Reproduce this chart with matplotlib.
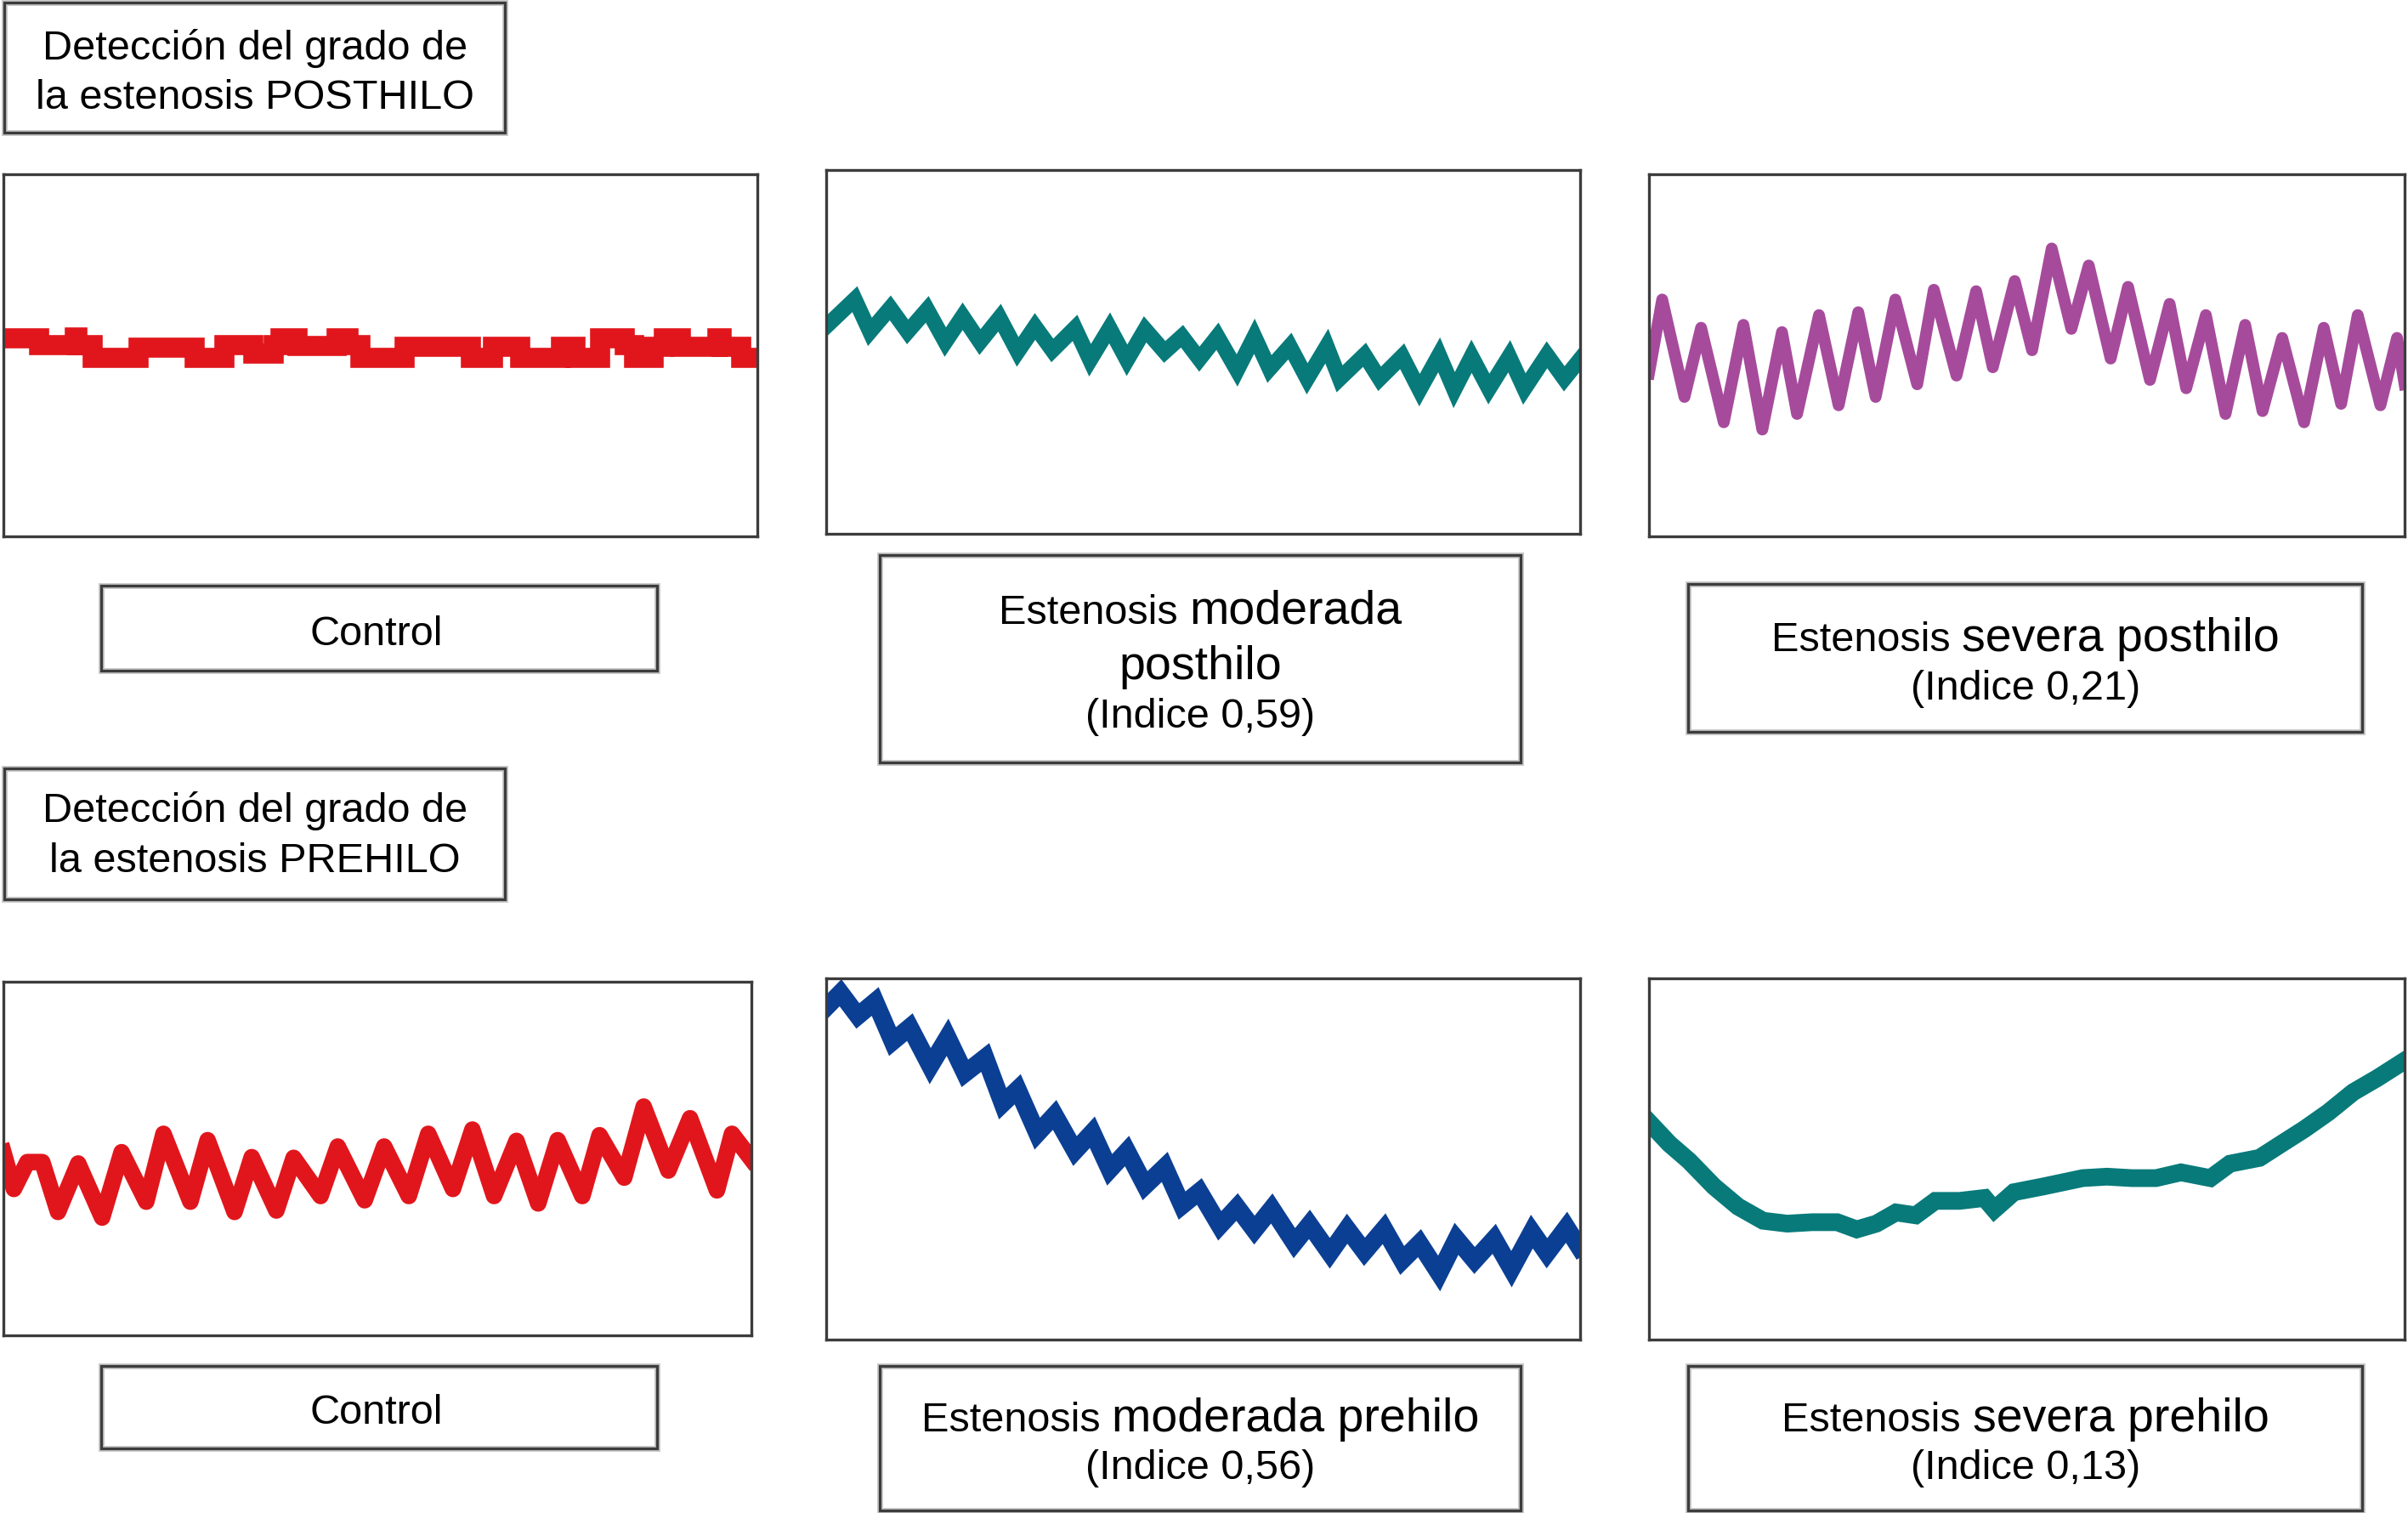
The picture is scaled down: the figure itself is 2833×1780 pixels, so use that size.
import matplotlib
matplotlib.use('Agg')
import matplotlib.pyplot as plt
from matplotlib.patches import Rectangle

# output size in pixels
W, H = 2833, 1781
FONT = ['Liberation Sans', 'DejaVu Sans']

# colours of the traces
RED = '#e1161c'
TEAL = '#087a7a'
MAGENTA = '#a64b9c'
BLUE = '#0b3f94'
FRAME = '#3c3c3c'

# --- traces (x: 0-100 across the panel, y: 0-100 bottom to top) ---
# control posthilo (step trace)
ctrl_post_x = [0, 4.7, 9.5, 9.8, 11.8, 17.9, 25.4, 29.3, 33.2, 35.8, 36.7, 39.0, 44.2, 45.8, 47.4,
               53.2, 62.0, 64.9, 68.5, 74.0, 75.9, 79.1, 82.4, 83.7, 86.3, 87.6, 89.8, 94.7, 95.3,
               97.9, 100]
ctrl_post_y = [54.6, 52.7, 55.0, 52.7, 49.3, 52.0, 49.3, 52.7, 50.5, 52.7, 54.8, 52.5, 54.6, 52.7,
               49.3, 52.4, 49.3, 52.4, 49.3, 52.4, 49.3, 54.6, 52.7, 49.3, 52.4, 54.6, 52.4, 54.8,
               52.4, 49.3, 49.3]

# estenosis moderada posthilo
mod_post_x = [0, 3.8, 5.8, 8.5, 10.8, 13.4, 15.8, 18.1, 20.4, 23.0, 25.4, 27.7, 30.0, 33.0, 35.0,
              37.6, 39.9, 42.3, 44.9, 47.2, 49.5, 51.9, 54.5, 56.8, 58.8, 61.5, 63.8, 66.4, 68.1,
              71.4, 73.4, 76.4, 78.7, 81.3, 83.3, 85.6, 87.9, 90.6, 92.6, 95.6, 97.9, 100]
mod_post_y = [57.0, 64.5, 55.5, 62.1, 55.5, 61.7, 52.7, 59.8, 52.7, 59.4, 50.0, 57.0, 50.4, 56.6,
              47.7, 56.6, 47.7, 56.2, 50.0, 54.3, 48.0, 54.3, 44.9, 54.3, 45.3, 51.6, 42.6, 51.6,
              42.6, 49.2, 42.6, 48.8, 39.5, 49.2, 39.5, 48.8, 39.8, 48.8, 39.8, 49.2, 42.6, 48.0]

# estenosis severa posthilo
sev_post_x = [0, 1.75, 4.7, 6.9, 9.9, 12.5, 15.0, 17.6, 19.6, 22.5, 25.1, 27.7, 30.0, 32.6, 35.5,
              37.7, 40.7, 43.3, 45.5, 48.4, 50.7, 53.3, 55.9, 58.2, 61.1, 63.4, 66.3, 68.9, 71.1,
              73.7, 76.3, 78.9, 81.2, 83.8, 86.7, 89.3, 91.6, 93.8, 96.8, 99.0, 100]
sev_post_y = [45.0, 65.4, 38.5, 57.6, 31.5, 58.4, 29.5, 56.4, 33.8, 61.1, 36.2, 61.9, 38.5, 65.4,
              42.0, 68.1, 44.4, 67.7, 46.7, 70.5, 51.4, 79.5, 57.3, 74.8, 49.1, 68.9, 43.2, 64.2,
              40.9, 61.1, 33.8, 58.4, 34.6, 54.8, 31.5, 57.6, 36.6, 61.1, 36.2, 54.8, 42.0]

# control prehilo
ctrl_pre_x = [0, 1.4, 3.2, 5.2, 7.3, 10.0, 13.2, 15.8, 19.1, 21.4, 25.0, 27.3, 30.9, 33.2, 36.5,
              38.8, 42.4, 44.7, 48.3, 50.9, 54.2, 56.8, 60.1, 62.7, 65.6, 68.6, 71.5, 74.1, 77.4,
              79.7, 83.0, 85.6, 88.9, 91.8, 95.4, 97.4, 100]
ctrl_pre_y = [51.8, 41.4, 49.0, 49.0, 34.9, 48.6, 33.3, 51.8, 37.8, 57.0, 37.8, 55.2, 34.9, 50.4,
              35.3, 50.2, 39.4, 53.4, 38.2, 53.4, 39.4, 57.0, 41.4, 58.2, 39.4, 55.0, 37.3, 55.2,
              39.4, 56.6, 44.6, 64.7, 46.6, 61.4, 41.0, 57.0, 49.8]

# estenosis moderada prehilo
mod_pre_x = [0.2, 1.9, 4.2, 6.5, 8.8, 11.1, 13.8, 16.1, 18.4, 21.1, 23.4, 25.4, 28.0, 30.3, 33.0,
             35.3, 37.6, 39.9, 42.3, 44.9, 47.2, 49.5, 52.2, 54.5, 56.8, 59.1, 62.1, 64.1, 66.8,
             69.1, 71.4, 74.0, 76.4, 78.7, 81.3, 83.6, 86.0, 88.6, 90.9, 93.6, 95.6, 98.2, 99.9]
mod_pre_y = [92.4, 96.0, 89.6, 93.6, 82.5, 86.5, 75.7, 83.7, 73.7, 78.1, 65.3, 69.3, 57.0, 62.2,
             52.2, 57.4, 47.0, 52.2, 42.6, 47.8, 37.1, 41.0, 31.5, 36.7, 30.3, 36.3, 26.7, 31.9,
             23.9, 30.7, 24.3, 30.7, 21.9, 26.7, 18.3, 27.9, 21.9, 27.9, 19.5, 29.9, 23.9, 31.1,
             25.5]

# estenosis severa prehilo
sev_pre_x = [0, 2.7, 5.3, 8.6, 11.8, 15.1, 18.3, 21.6, 24.9, 27.5, 30.1, 32.7, 35.3, 37.9, 41.1,
             44.4, 45.7, 48.3, 52.2, 57.4, 60.6, 63.9, 67.1, 70.4, 74.3, 76.9, 80.8, 83.4, 86.7,
             89.9, 93.2, 96.4, 100]
sev_pre_y = [60.2, 54.2, 49.5, 42.4, 36.8, 32.9, 32.1, 32.5, 32.5, 30.5, 32.1, 35.2, 34.4, 38.4,
             38.4, 39.2, 36.0, 40.8, 42.4, 44.7, 45.1, 44.7, 44.7, 46.3, 44.7, 48.7, 50.3, 53.8,
             58.2, 62.9, 68.5, 72.4, 77.2]

# --- labels ---
title_post = ['Detección del grado de', 'la estenosis POSTHILO']
title_pre = ['Detección del grado de', 'la estenosis PREHILO']
label_ctrl = 'Control'
label_mod_post = ['Estenosis ', 'moderada', 'posthilo', '(Indice 0,59)']
label_sev_post = ['Estenosis ', 'severa posthilo', '(Indice 0,21)']
label_mod_pre = ['Estenosis ', 'moderada prehilo', '(Indice 0,56)']
label_sev_pre = ['Estenosis ', 'severa prehilo', '(Indice 0,13)']

SMALL = 35
BIG = 40

fig = plt.figure(figsize=(W / 100, H / 100), dpi=100)
fig.patch.set_facecolor('white')


def fx(px):
    return px / W


def fy(py):
    return 1 - py / H


def add_box(x0, y0, x1, y1):
    # soft grey halo then the dark frame
    fig.add_artist(Rectangle((fx(x0), fy(y1)), (x1 - x0) / W, (y1 - y0) / H,
                             transform=fig.transFigure, fill=False, ec='#c9c9c9', lw=5))
    fig.add_artist(Rectangle((fx(x0), fy(y1)), (x1 - x0) / W, (y1 - y0) / H,
                             transform=fig.transFigure, fill=False, ec=FRAME, lw=2.4))


def add_panel(x0, y0, x1, y1):
    ax = fig.add_axes([fx(x0), fy(y1), (x1 - x0) / W, (y1 - y0) / H])
    ax.set_xlim(0, 100)
    ax.set_ylim(0, 100)
    ax.set_xticks([])
    ax.set_yticks([])
    for sp in ax.spines.values():
        sp.set_color(FRAME)
        sp.set_linewidth(2.4)
        sp.set_zorder(5)
    return ax


def put_line(parts, cx, cy):
    """parts: list of (text, size); draws them side by side centred at cx."""
    maxpx = max(s for _, s in parts) * 100 / 72
    base = cy + 0.36 * maxpx
    texts = []
    for s, size in parts:
        t = fig.text(0, fy(base), s.strip(), fontsize=size, ha='left', va='baseline',
                     family=FONT, color='black')
        texts.append((t, size, s.endswith(' ')))
    r = fig.canvas.get_renderer()
    widths = []
    for t, size, gap in texts:
        w = t.get_window_extent(renderer=r).width
        if gap:
            w += 0.278 * size * 100 / 72
        widths.append(w)
    x = cx - sum(widths) / 2
    for (t, size, gap), w in zip(texts, widths):
        t.set_x(fx(x))
        x += w


# ---- top row ----
add_box(5, 4, 594, 157)
put_line([(title_post[0], SMALL)], 300, 52)
put_line([(title_post[1], SMALL)], 300, 110)

ax1 = add_panel(4, 206, 891, 632)
ax1.plot(ctrl_post_x, ctrl_post_y, color=RED, lw=17, drawstyle='steps-post',
         solid_joinstyle='miter', solid_capstyle='butt')
ax2 = add_panel(972, 201, 1859, 629)
ax2.plot(mod_post_x, mod_post_y, color=TEAL, lw=13, solid_joinstyle='miter')
ax3 = add_panel(1940, 206, 2829, 632)
ax3.plot(sev_post_x, sev_post_y, color=MAGENTA, lw=10, solid_joinstyle='round')

add_box(119, 690, 773, 790)
put_line([(label_ctrl, SMALL)], 443, 742)

add_box(1035, 654, 1789, 898)
put_line([(label_mod_post[0], SMALL), (label_mod_post[1], BIG)], 1412, 714)
put_line([(label_mod_post[2], BIG)], 1412, 779)
put_line([(label_mod_post[3], SMALL)], 1412, 838)

add_box(1986, 688, 2779, 862)
put_line([(label_sev_post[0], SMALL), (label_sev_post[1], BIG)], 2383, 746)
put_line([(label_sev_post[2], SMALL)], 2383, 806)

# ---- bottom row ----
add_box(5, 905, 594, 1059)
put_line([(title_pre[0], SMALL)], 300, 950)
put_line([(title_pre[1], SMALL)], 300, 1008)

ax4 = add_panel(4, 1156, 884, 1572)
ax4.plot(ctrl_pre_x, ctrl_pre_y, color=RED, lw=14, solid_joinstyle='round')
ax5 = add_panel(972, 1152, 1859, 1577)
ax5.plot(mod_pre_x, mod_pre_y, color=BLUE, lw=15, solid_joinstyle='miter')
ax6 = add_panel(1940, 1152, 2829, 1577)
ax6.plot(sev_pre_x, sev_pre_y, color=TEAL, lw=15, solid_joinstyle='miter')

add_box(119, 1608, 773, 1705)
put_line([(label_ctrl, SMALL)], 443, 1658)

add_box(1035, 1608, 1789, 1778)
put_line([(label_mod_pre[0], SMALL), (label_mod_pre[1], BIG)], 1412, 1664)
put_line([(label_mod_pre[2], SMALL)], 1412, 1723)

add_box(1986, 1608, 2779, 1778)
put_line([(label_sev_pre[0], SMALL), (label_sev_pre[1], BIG)], 2383, 1664)
put_line([(label_sev_pre[2], SMALL)], 2383, 1723)

fig.savefig('out.png', dpi=100, facecolor='white')
